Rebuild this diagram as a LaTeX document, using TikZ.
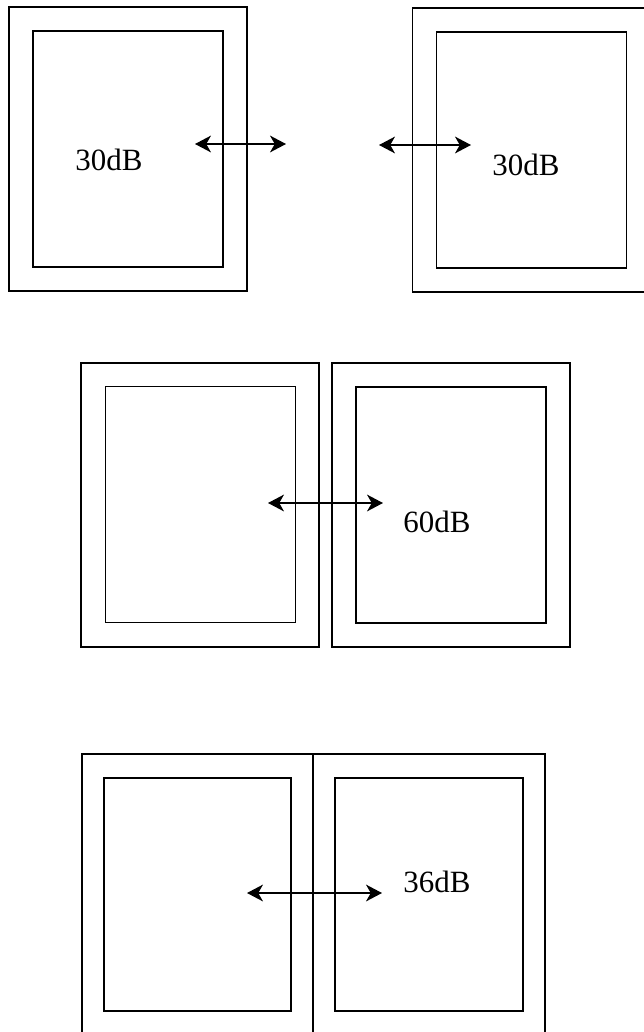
\documentclass[tikz,border=0pt]{standalone}
\usepackage{fontspec}
\setmainfont{Liberation Serif}
\usetikzlibrary{arrows.meta,positioning}

\begin{document}
\begin{tikzpicture}[
  x=0.025cm, y=-0.025cm,
  outerbox/.style={draw, line width=1.3pt, inner sep=0pt, minimum width=5.95cm, minimum height=7.1cm},
  innerbox/.style={draw, line width=1.3pt, inner sep=0pt, minimum width=4.75cm, minimum height=5.9cm},
  lowouter/.style={outerbox, minimum width=5.78cm, minimum height=7.03cm},
  lowinner/.style={innerbox, minimum width=4.68cm, minimum height=5.83cm},
  level/.style={font=\fontsize{22}{26}\selectfont, inner sep=0pt},
  flow/.style={{Stealth[length=0.4cm,width=0.42cm,inset=0.12cm]}-{Stealth[length=0.4cm,width=0.42cm,inset=0.12cm]}, line width=1pt}
]
\fill[white] (0,0) rectangle (644,1032);
\path[use as bounding box, clip] (0,0) rectangle (644,1032);

% two rooms far apart
\node[outerbox] (roomA) at (128,149) {};
\node[innerbox] (coreA) at (128,149) {};
\node[outerbox] (roomB) at (531.5,150) {};
\node[innerbox] (coreB) at (531.5,150) {};
\node[level] (dbA) at (109,160) {30dB};
\node[level] (dbB) at (526,165) {30dB};
\coordinate (a1) at (195,144);
\coordinate (a2) at (286,144);
\coordinate (b1) at (379,145);
\coordinate (b2) at (471,145);
\draw[flow] (a1) -- (a2);
\draw[flow] (b1) -- (b2);

% two rooms side by side
\node[outerbox] (roomC) at (200,505) {};
\node[innerbox] (coreC) at (200.5,504.5) {};
\node[outerbox] (roomD) at (451,505) {};
\node[innerbox] (coreD) at (451,505) {};
\node[level] (dbC) at (437,522) {60dB};
\coordinate (c1) at (268,503);
\coordinate (c2) at (383,503);
\draw[flow] (c1) -- (c2);

% two rooms sharing a wall
\node[lowouter] (roomE) at (197.5,894.5) {};
\node[lowinner] (coreE) at (197.5,894.5) {};
\node[lowouter] (roomF) at (429,894.5) {};
\node[lowinner] (coreF) at (429,894.5) {};
\node[level] (dbE) at (437,882) {36dB};
\coordinate (e1) at (247,893);
\coordinate (e2) at (382,893);
\draw[flow] (e1) -- (e2);
\end{tikzpicture}
\end{document}
